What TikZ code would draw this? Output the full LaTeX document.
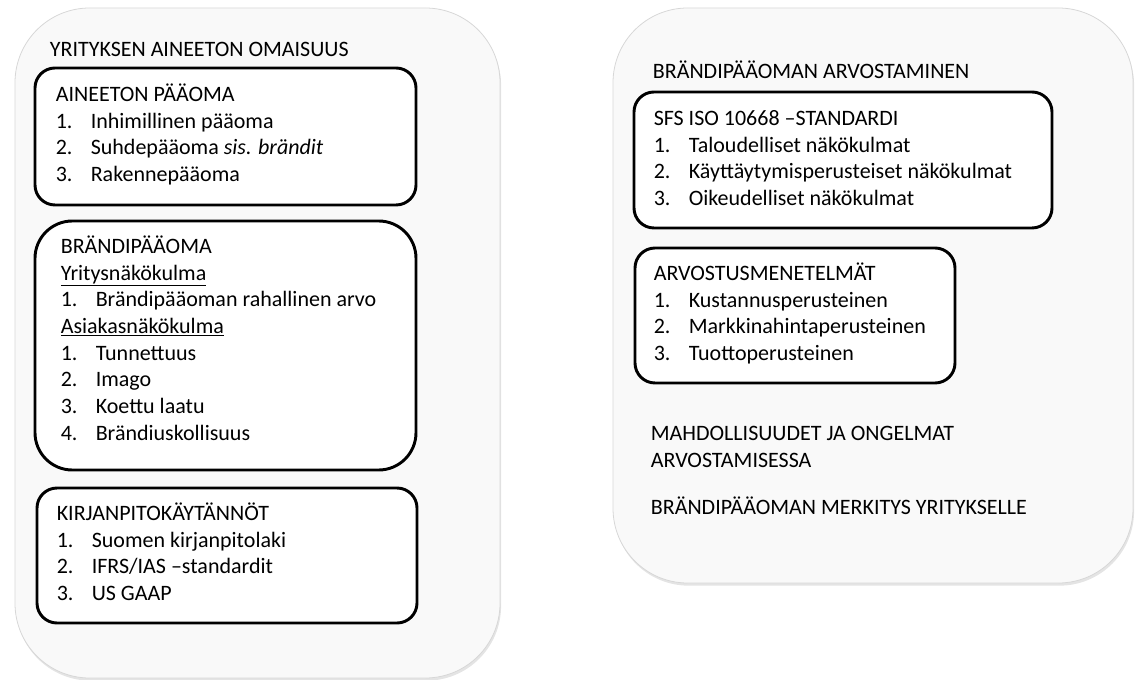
\documentclass[tikz,border=0pt]{standalone}
\usepackage{fontspec}
\setmainfont{Carlito}
\usetikzlibrary{positioning, calc, fit, shadows}
\definecolor{panelbg}{RGB}{249,249,249}
\definecolor{panelrim}{RGB}{215,215,215}
\tikzset{
  panel/.style={
    rectangle, rounded corners=56pt, fill=panelbg, draw=panelrim,
    line width=0.6pt, inner sep=0pt,
    drop shadow={shadow xshift=0.8pt, shadow yshift=-2pt, fill=black!30, opacity=0.35}
  },
  listbox/.style={
    rectangle, rounded corners=15pt, draw=black, line width=2.2pt,
    fill=white, inner sep=0pt
  },
  txt/.style={anchor=base west, inner sep=0pt, font=\fontsize{16.5pt}{20pt}\selectfont},
}
\newcommand{\nr}[1]{\makebox[26.25pt][l]{#1}}
\newcommand{\lines}[1]{\begin{tabular}[t]{@{}l@{}}#1\end{tabular}}

\begin{document}
\begin{tikzpicture}[x=0.75pt, y=-0.75pt]
  \useasboundingbox (0,0) rectangle (1137,680);

  % two outer panels
  \node[panel, fit={(15,8) (500,678)}] (assets) {};
  \node[panel, fit={(613,8) (1133,583)}] (valuation) {};

  % left panel
  \node[txt] (assets-t) at ($(assets.north west)+(35,49)$) {YRITYKSEN AINEETON OMAISUUS};

  \node[listbox, fit={(35,68) (416,205)}] (capital) {};
  \node[txt] (capital-t) at ($(capital.north west)+(22,35)$) {\lines{%
    AINEETON PÄÄOMA\\
    \nr{1.}Inhimillinen pääoma\\
    \nr{2.}Suhdepääoma \textit{sis. brändit}\\
    \nr{3.}Rakennepääoma}};

  \node[listbox, rounded corners=28pt, fit={(35,221) (416,470)}] (equity) {};
  \node[txt] (equity-t) at ($(equity.north west)+(27,34)$) {\lines{%
    BRÄNDIPÄÄOMA\\
    \underline{Yritysnäkökulma}\\
    \nr{1.}Brändipääoman rahallinen arvo\\
    \underline{Asiakasnäkökulma}\\
    \nr{1.}Tunnettuus\\
    \nr{2.}Imago\\
    \nr{3.}Koettu laatu\\
    \nr{4.}Brändiuskollisuus}};

  \node[listbox, fit={(37,488) (417,623)}] (books) {};
  \node[txt] (books-t) at ($(books.north west)+(21,34)$) {\lines{%
    KIRJANPITOKÄYTÄNNÖT\\
    \nr{1.}Suomen kirjanpitolaki\\
    \nr{2.}IFRS/IAS –standardit\\
    \nr{3.}US GAAP}};

  % right panel
  \node[txt] (valuation-t) at ($(valuation.north west)+(40,71)$) {BRÄNDIPÄÄOMAN ARVOSTAMINEN};

  \node[listbox, fit={(634,92) (1052,228)}] (iso) {};
  \node[txt] (iso-t) at ($(iso.north west)+(21,35)$) {\lines{%
    SFS ISO 10668 –STANDARDI\\
    \nr{1.}Taloudelliset näkökulmat\\
    \nr{2.}Käyttäytymisperusteiset näkökulmat\\
    \nr{3.}Oikeudelliset näkökulmat}};

  \node[listbox, fit={(635,248) (955,383)}] (methods) {};
  \node[txt] (methods-t) at ($(methods.north west)+(20,34)$) {\lines{%
    ARVOSTUSMENETELMÄT\\
    \nr{1.}Kustannusperusteinen\\
    \nr{2.}Markkinahintaperusteinen\\
    \nr{3.}Tuottoperusteinen}};

  \node[txt] (issues) at ($(valuation.north west)+(38,433)$) {\lines{%
    MAHDOLLISUUDET JA ONGELMAT\\
    ARVOSTAMISESSA}};
  \node[txt] (meaning) at ($(valuation.north west)+(38,507)$) {BRÄNDIPÄÄOMAN MERKITYS YRITYKSELLE};
\end{tikzpicture}
\end{document}
